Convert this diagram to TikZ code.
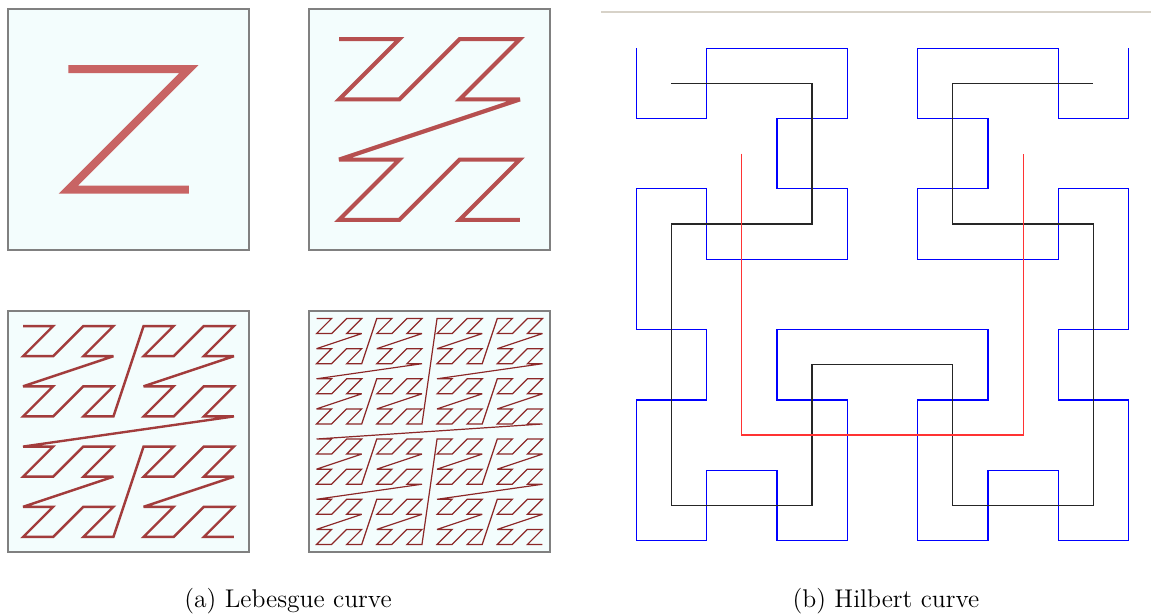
\documentclass[tikz,border=0pt]{standalone}
\usepackage{xcolor}
\definecolor{zfill}{RGB}{243,253,253}
\definecolor{zone}{RGB}{200,100,100}
\definecolor{ztwo}{RGB}{182,80,80}
\definecolor{zthree}{RGB}{162,60,60}
\definecolor{zfour}{RGB}{140,40,40}
\definecolor{rulecol}{RGB}{215,210,200}

\begin{document}
\begin{tikzpicture}[x=0.5pt,y=-0.5pt,
    declare function={zx(\t)=mod(\t,2)+2*mod(floor((\t+0.5)/4),2)+4*mod(floor((\t+0.5)/16),2)+8*mod(floor((\t+0.5)/64),2);
                      zy(\t)=mod(floor((\t+0.5)/2),2)+2*mod(floor((\t+0.5)/8),2)+4*mod(floor((\t+0.5)/32),2)+8*mod(floor((\t+0.5)/128),2);},
    frame/.style={draw=gray,line width=0.6pt,fill=zfill},
    hil/.style={line width=0.6pt},
    every node/.style={font=\fontsize{12.8}{15}\selectfont}]
    \useasboundingbox (0,0) rectangle (1151,614);
    % Lebesgue curves, levels 1 to 4
    \foreach \lev/\bx/\by/\col/\lw in {1/8/9/zone/4pt, 2/309/9/ztwo/2.1pt, 3/8/311/zthree/1.2pt, 4/309/311/zfour/0.6pt} {
      \pgfmathsetmacro\cell{241/2^\lev}
      \pgfmathtruncatemacro\last{4^\lev-1}
      \begin{scope}[shift={(\bx,\by)}]
        \draw[frame] (0,0) rectangle (241,241);
        \draw[\col,line width=\lw,miter limit=4] plot[variable=\t,samples at={0,...,\last}] ({(zx(\t)+0.5)*\cell},{(zy(\t)+0.5)*\cell});
      \end{scope}
    }
    % Hilbert curves, levels 3, 2, 1
    \coordinate (rl) at (601,12);
    \coordinate (rr) at (1151,12);
    \draw[rulecol,line width=0.6pt] (rl) -- (rr);
    \begin{scope}[shift={(636.2,48.2)},scale=70.35]
      \draw[hil,blue] plot coordinates {(0,0) (0,1) (1,1) (1,0) (2,0) (3,0) (3,1) (2,1) (2,2) (3,2) (3,3) (2,3) (1,3) (1,2) (0,2) (0,3)
        (0,4) (1,4) (1,5) (0,5) (0,6) (0,7) (1,7) (1,6) (2,6) (2,7) (3,7) (3,6) (3,5) (2,5) (2,4) (3,4)
        (4,4) (5,4) (5,5) (4,5) (4,6) (4,7) (5,7) (5,6) (6,6) (6,7) (7,7) (7,6) (7,5) (6,5) (6,4) (7,4)
        (7,3) (7,2) (6,2) (6,3) (5,3) (4,3) (4,2) (5,2) (5,1) (4,1) (4,0) (5,0) (6,0) (6,1) (7,1) (7,0)};
    \end{scope}
    \begin{scope}[shift={(671.35,83.35)},scale=140.7]
      \draw[hil,black!85] plot coordinates {(0,0) (1,0) (1,1) (0,1) (0,2) (0,3) (1,3) (1,2) (2,2) (2,3) (3,3) (3,2) (3,1) (2,1) (2,0) (3,0)};
    \end{scope}
    \begin{scope}[shift={(741.7,153.7)},scale=281.4]
      \draw[hil,red!80] plot coordinates {(0,0) (0,1) (1,1) (1,0)};
    \end{scope}
    % captions
    \node[anchor=base] (capa) at (288,607) {(a) Lebesgue curve};
    \node[anchor=base] (capb) at (886,607) {(b) Hilbert curve};
\end{tikzpicture}
\end{document}
